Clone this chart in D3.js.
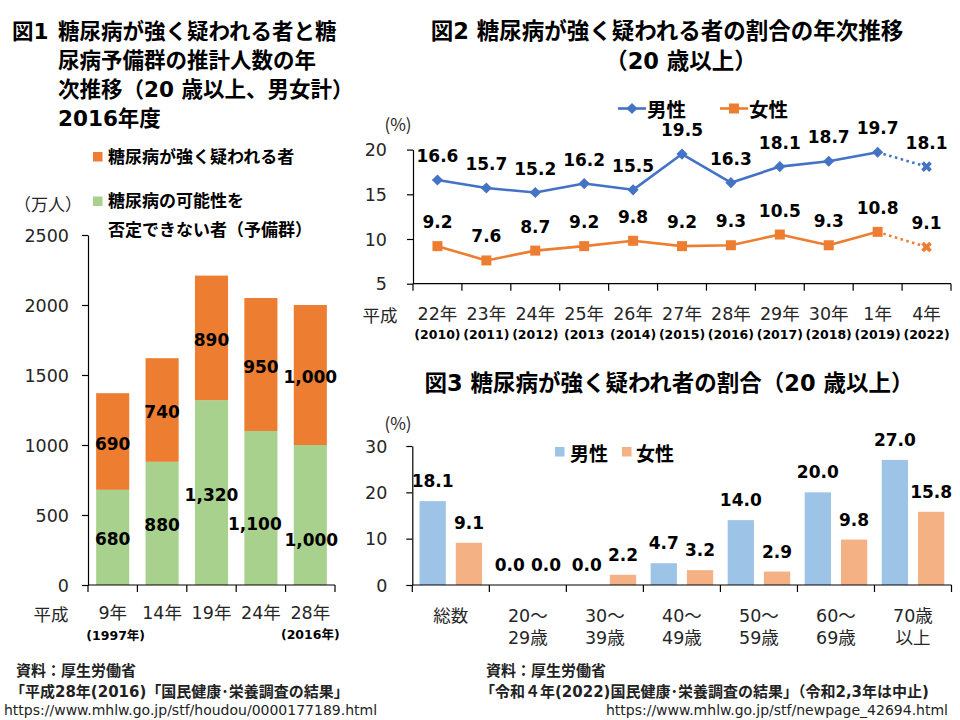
<!DOCTYPE html>
<html><head><meta charset="utf-8">
<script src="https://cdn.jsdelivr.net/npm/d3@7"></script>
<style>body{margin:0;background:#fff} svg{display:block}</style>
</head><body><svg id="c" width="960" height="720"></svg>
<script>
// ---------- Data ----------
// Figure 1
const fig1Categories = ["9年", "14年", "19年", "24年", "28年"];
const fig1Prediabetes = [680, 880, 1320, 1100, 1000];   // 予備群 (green)
const fig1Diabetes = [690, 740, 890, 950, 1000];         // 強く疑われる者 (orange)
const fig1YTicks = [0, 500, 1000, 1500, 2000, 2500];
// Figure 2
const fig2Categories = ["22年", "23年", "24年", "25年", "26年", "27年", "28年", "29年", "30年", "1年", "4年"];
const fig2Years = ["(2010)", "(2011)", "(2012)", "(2013", "(2014)", "(2015)", "(2016)", "(2017)", "(2018)", "(2019)", "(2022)"];
const fig2Male = [16.6, 15.7, 15.2, 16.2, 15.5, 19.5, 16.3, 18.1, 18.7, 19.7, 18.1];
const fig2Female = [9.2, 7.6, 8.7, 9.2, 9.8, 9.2, 9.3, 10.5, 9.3, 10.8, 9.1];
const fig2YTicks = [5, 10, 15, 20];
// Figure 3
const fig3Categories = [["総数"], ["20～", "29歳"], ["30～", "39歳"], ["40～", "49歳"], ["50～", "59歳"], ["60～", "69歳"], ["70歳", "以上"]];
const fig3Male = [18.1, 0.0, 0.0, 4.7, 14.0, 20.0, 27.0];
const fig3Female = [9.1, 0.0, 2.2, 3.2, 2.9, 9.8, 15.8];
const fig3YTicks = [0, 10, 20, 30];

// ---------- Style ----------
const FONT = "'DejaVu Sans','Noto Sans CJK JP',sans-serif";
const JFONT = "'Noto Sans CJK JP','DejaVu Sans',sans-serif";
const C = {
  orange: "#ED7D31", green: "#A9D18E", blue: "#4472C4",
  lblue: "#9DC3E6", lorange: "#F4B183", axis: "#000", tick: "#262626"
};

const svg = d3.select("#c");
svg.append("rect").attr("width", 960).attr("height", 720).attr("fill", "#fff");

function txt(g, x, y, s, o = {}) {
  return g.append("text").attr("x", x).attr("y", y)
    .attr("font-family", o.family || FONT)
    .attr("font-size", o.size || 17)
    .attr("font-weight", o.bold ? "bold" : "normal")
    .attr("fill", o.fill || "#000")
    .attr("text-anchor", o.anchor || "start")
    .attr("dominant-baseline", "central")
    .text(s);
}

function yAxis(g, scale, ticks, x, pad, size) {
  const ax = d3.axisLeft(scale).tickValues(ticks).tickSize(6).tickSizeOuter(0).tickPadding(pad)
    .tickFormat(d3.format("d"));
  const a = g.append("g").attr("transform", `translate(${x},0)`).call(ax);
  a.select(".domain").attr("stroke", C.axis).attr("stroke-width", 1.2);
  a.selectAll(".tick line").attr("stroke", C.axis).attr("stroke-width", 1.2);
  a.selectAll(".tick text").attr("font-family", FONT).attr("font-size", size)
    .attr("fill", C.tick).attr("dy", null).attr("dominant-baseline", "central");
  return a;
}

function xBandAxis(g, band, y, tickLen) {
  const [r0, r1] = band.range();
  g.append("line").attr("x1", r0).attr("x2", r1).attr("y1", y).attr("y2", y)
    .attr("stroke", C.axis).attr("stroke-width", 1.2);
  const n = band.domain().length;
  const bounds = d3.range(n + 1).map(i => r0 + i * band.step());
  g.selectAll(null).data(bounds).join("line")
    .attr("x1", d => d).attr("x2", d => d).attr("y1", y).attr("y2", y + tickLen)
    .attr("stroke", C.axis).attr("stroke-width", 1.2);
}

// ---------- Figure 1 ----------
const g1 = svg.append("g");
txt(g1, 12, 31.5, "図1", { bold: true, size: 21.5 });
["糖尿病が強く疑われる者と糖", "尿病予備群の推計人数の年", "次推移（20 歳以上、男女計）", "2016年度"]
  .forEach((s, i) => txt(g1, 58, 31.5 + i * 29, s, { bold: true, size: 21.5 }));

// legend
g1.append("rect").attr("x", 93).attr("y", 152).attr("width", 9.5).attr("height", 9.5).attr("fill", C.orange);
txt(g1, 108, 157, "糖尿病が強く疑われる者", { bold: true, size: 17 });
g1.append("rect").attr("x", 93).attr("y", 196.5).attr("width", 9.5).attr("height", 9.5).attr("fill", C.green);
txt(g1, 108, 201, "糖尿病の可能性を", { bold: true, size: 17 });
txt(g1, 108, 230, "否定できない者（予備群）", { bold: true, size: 17 });
txt(g1, 14, 203, "（万人）", { size: 17, fill: C.tick, family: JFONT });

const x1 = d3.scaleBand().domain(d3.range(fig1Categories.length)).range([88, 335])
  .paddingInner(0.33).paddingOuter(0.165);
const y1 = d3.scaleLinear().domain([0, 2500]).range([585, 235]);

const stack1 = fig1Categories.map((c, i) => ({ i, g: fig1Prediabetes[i], o: fig1Diabetes[i] }));
g1.selectAll(".bg").data(stack1).join("rect")
  .attr("x", d => x1(d.i)).attr("width", x1.bandwidth())
  .attr("y", d => y1(d.g)).attr("height", d => y1(0) - y1(d.g)).attr("fill", C.green);
g1.selectAll(".bo").data(stack1).join("rect")
  .attr("x", d => x1(d.i)).attr("width", x1.bandwidth())
  .attr("y", d => y1(d.g + d.o)).attr("height", d => y1(d.g) - y1(d.g + d.o)).attr("fill", C.orange);

yAxis(g1, y1, fig1YTicks, 88, 13, 17.5);
xBandAxis(g1, x1, 585, 7);

// labels (Excel-style manual nudges for two green labels)
const nudge1 = { 3: [-6, 14], 4: [1, 23] };
const fmt1 = d3.format(",");
stack1.forEach(d => {
  const cx = x1(d.i) + x1.bandwidth() / 2;
  const ng = nudge1[d.i] || [0, 0];
  txt(g1, cx + ng[0], (y1(0) + y1(d.g)) / 2 + 2 + ng[1], fmt1(d.g), { bold: true, size: 17, anchor: "middle" });
  txt(g1, cx, (y1(d.g) + y1(d.g + d.o)) / 2 + 2, fmt1(d.o), { bold: true, size: 17, anchor: "middle" });
});
txt(g1, 51, 613, "平成", { size: 17.5, fill: C.tick, anchor: "middle", family: JFONT });
fig1Categories.forEach((c, i) => txt(g1, x1(i) + x1.bandwidth() / 2, 613, c, { size: 17.5, fill: C.tick, anchor: "middle" }));
txt(g1, x1(0) + x1.bandwidth() / 2 + 3, 635, "(1997年)", { bold: true, size: 12.5, anchor: "middle" });
txt(g1, x1(4) + x1.bandwidth() / 2, 634, "(2016年)", { bold: true, size: 12.5, anchor: "middle" });

// footer left
txt(g1, 16, 671, "資料：厚生労働省", { bold: true, size: 15, fill: "#222" });
txt(g1, 10, 691.5, "「平成28年(2016)「国民健康･栄養調査の結果」", { bold: true, size: 15, fill: "#222" });
txt(g1, 4, 710, "https://www.mhlw.go.jp/stf/houdou/0000177189.html", { size: 14, fill: "#222" });

// ---------- Figure 2 ----------
const g2 = svg.append("g");
txt(g2, 667, 31, "図2 糖尿病が強く疑われる者の割合の年次推移", { bold: true, size: 22.5, anchor: "middle" });
txt(g2, 681, 61, "（20 歳以上）", { bold: true, size: 22.5, anchor: "middle" });

const x2 = d3.scaleBand().domain(d3.range(fig2Categories.length)).range([413, 951]);
const y2 = d3.scaleLinear().domain([5, 20]).range([283.7, 149.6]);
const cx2 = i => x2(i) + x2.bandwidth() / 2;

yAxis(g2, y2, fig2YTicks, 413, 20, 17.5);
xBandAxis(g2, x2, 283.7, 7);
txt(g2, 398, 123, "(%)", { size: 17, fill: C.tick, anchor: "middle", family: JFONT });
txt(g2, 380, 314, "平成", { size: 17.5, fill: C.tick, anchor: "middle", family: JFONT });
fig2Categories.forEach((c, i) => txt(g2, cx2(i), 314, c, { size: 17.5, fill: C.tick, anchor: "middle" }));
fig2Years.forEach((c, i) => txt(g2, cx2(i), 334, c, { bold: true, size: 12.5, anchor: "middle" }));

const line2 = d3.line().x(d => cx2(d.i)).y(d => y2(d.v));
function series2(vals, color, marker) {
  const pts = vals.map((v, i) => ({ i, v }));
  const n = pts.length;
  g2.append("path").attr("d", line2(pts.slice(0, n - 1))).attr("fill", "none")
    .attr("stroke", color).attr("stroke-width", 2.6).attr("stroke-linejoin", "round");
  g2.append("path").attr("d", line2(pts.slice(n - 2))).attr("fill", "none")
    .attr("stroke", color).attr("stroke-width", 2.6).attr("stroke-dasharray", "2.5,3.5");
  pts.slice(0, n - 1).forEach(p => {
    const t = `translate(${cx2(p.i)},${y2(p.v)})`;
    if (marker === "diamond") {
      g2.append("path").attr("d", d3.symbol(d3.symbolSquare, 62)()).attr("transform", t + " rotate(45)").attr("fill", color);
    } else {
      g2.append("path").attr("d", d3.symbol(d3.symbolSquare, 100)()).attr("transform", t).attr("fill", color);
    }
  });
  const last = pts[n - 1];
  g2.append("path").attr("d", d3.symbol(d3.symbolCross, 70)())
    .attr("transform", `translate(${cx2(last.i)},${y2(last.v)}) rotate(45)`).attr("fill", color);
  pts.forEach(p => txt(g2, cx2(p.i), y2(p.v) - 24, p.v.toFixed(1), { bold: true, size: 17, anchor: "middle" }));
}
series2(fig2Male, C.blue, "diamond");
series2(fig2Female, C.orange, "square");

// legend fig2
g2.append("line").attr("x1", 618).attr("x2", 646).attr("y1", 108.5).attr("y2", 108.5).attr("stroke", C.blue).attr("stroke-width", 2.6);
g2.append("path").attr("d", d3.symbol(d3.symbolSquare, 62)()).attr("transform", "translate(632,108.5) rotate(45)").attr("fill", C.blue);
txt(g2, 647, 108.5, "男性", { bold: true, size: 19.5, family: JFONT });
g2.append("line").attr("x1", 720).attr("x2", 748).attr("y1", 108.5).attr("y2", 108.5).attr("stroke", C.orange).attr("stroke-width", 2.6);
g2.append("path").attr("d", d3.symbol(d3.symbolSquare, 100)()).attr("transform", "translate(734,108.5)").attr("fill", C.orange);
txt(g2, 749, 108.5, "女性", { bold: true, size: 19.5, family: JFONT });

// ---------- Figure 3 ----------
const g3 = svg.append("g");
txt(g3, 669, 383, "図3 糖尿病が強く疑われ者の割合（20 歳以上）", { bold: true, size: 22.5, anchor: "middle" });
const x3 = d3.scaleBand().domain(d3.range(fig3Categories.length)).range([412.3, 951.5]);
const x3i = d3.scaleBand().domain(["m", "f"]).range([0, x3.bandwidth()]).paddingInner(0.275).paddingOuter(0.2);
const y3 = d3.scaleLinear().domain([0, 30]).range([585, 446]);

const bars3 = [];
fig3Categories.forEach((c, i) => {
  bars3.push({ i, k: "m", v: fig3Male[i] });
  bars3.push({ i, k: "f", v: fig3Female[i] });
});
g3.selectAll(".b3").data(bars3).join("rect")
  .attr("x", d => x3(d.i) + x3i(d.k)).attr("width", x3i.bandwidth())
  .attr("y", d => y3(d.v)).attr("height", d => y3(0) - y3(d.v))
  .attr("fill", d => d.k === "m" ? C.lblue : C.lorange);
bars3.forEach(d => txt(g3, x3(d.i) + x3i(d.k) + x3i.bandwidth() / 2, y3(d.v) - 20, d.v.toFixed(1),
  { bold: true, size: 17, anchor: "middle" }));

yAxis(g3, y3, fig3YTicks, 412.3, 19, 17.5);
xBandAxis(g3, x3, 585, 7);
txt(g3, 398, 422, "(%)", { size: 17, fill: C.tick, anchor: "middle", family: JFONT });
fig3Categories.forEach((lines, i) => lines.forEach((s, j) =>
  txt(g3, x3(i) + x3.bandwidth() / 2, 616 + j * 22, s, { size: 17.5, fill: C.tick, anchor: "middle" })));

// legend fig3
g3.append("rect").attr("x", 555).attr("y", 447).attr("width", 9.5).attr("height", 9.5).attr("fill", C.lblue);
txt(g3, 570, 452, "男性", { bold: true, size: 19, family: JFONT });
g3.append("rect").attr("x", 622).attr("y", 447).attr("width", 9.5).attr("height", 9.5).attr("fill", C.lorange);
txt(g3, 636, 452, "女性", { bold: true, size: 19, family: JFONT });

// footer right
txt(g3, 486, 671, "資料：厚生労働省", { bold: true, size: 15, fill: "#222" });
txt(g3, 480, 691.5, "「令和４年(2022)国民健康･栄養調査の結果」（令和2,3年は中止)", { bold: true, size: 15, fill: "#222" });
txt(g3, 948, 710, "https://www.mhlw.go.jp/stf/newpage_42694.html", { size: 14, fill: "#222", anchor: "end" });
</script>
</body></html>
